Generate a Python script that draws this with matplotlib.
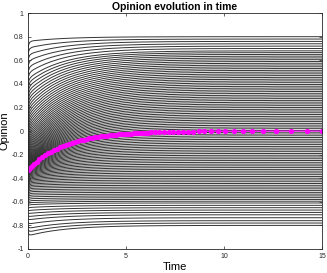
import matplotlib
matplotlib.use("Agg")
import matplotlib.pyplot as plt
import numpy as np

plt.rcParams['font.family'] = ['Liberation Sans', 'DejaVu Sans']

# solver time steps
time = [0, 0.02, 0.05, 0.1, 0.2, 0.3, 0.45, 0.6, 0.75, 0.9, 1.05, 1.2, 1.35, 1.5,
        1.65, 1.8, 1.95, 2.1, 2.25, 2.4, 2.55, 2.7, 2.85, 3.0, 3.15, 3.3, 3.45,
        3.6, 3.75, 3.9, 4.05, 4.2, 4.35, 4.5, 4.65, 4.8, 4.95, 5.1, 5.25, 5.4,
        5.55, 5.7, 5.85, 6.0, 6.15, 6.3, 6.5, 6.7, 6.95, 7.2, 7.42, 7.66, 7.9,
        8.15, 8.4, 8.71, 9.0, 9.34, 9.71, 10.05, 10.51, 10.95, 11.44, 12.0,
        12.65, 13.4, 14.24, 15.0]

# mean opinion (magenta)
mean_opinion = [-0.330, -0.327, -0.321, -0.313, -0.297, -0.282, -0.260, -0.241,
                -0.222, -0.205, -0.190, -0.175, -0.162, -0.150, -0.138, -0.128,
                -0.118, -0.109, -0.101, -0.093, -0.086, -0.080, -0.074, -0.068,
                -0.063, -0.058, -0.054, -0.050, -0.046, -0.042, -0.039, -0.036,
                -0.033, -0.031, -0.029, -0.026, -0.024, -0.023, -0.021, -0.019,
                -0.018, -0.016, -0.015, -0.014, -0.013, -0.012, -0.011, -0.010,
                -0.009, -0.007, -0.007, -0.006, -0.005, -0.005, -0.004, -0.003,
                -0.003, -0.002, -0.002, -0.002, -0.001, -0.001, -0.001, -0.001,
                0.0, 0.0, 0.0, 0.0]

# fast initial spread-out of the opinions
fast = [1, 0.6, 0.3, 0.1, 0.02] + [0] * (len(time) - 5)

# opinions at t = 15
final_opinion = [0.80, 0.78, 0.76, 0.74, 0.72, 0.70, 0.68, 0.665, 0.65, 0.635,
                 0.62, 0.605, 0.59, 0.575, 0.56, 0.545, 0.53, 0.515, 0.50, 0.485,
                 0.47, 0.455, 0.44, 0.425, 0.41, 0.395, 0.38, 0.365, 0.35, 0.335,
                 0.32, 0.305, 0.29, 0.275, 0.26, 0.245, 0.23, 0.215, 0.20, 0.185,
                 0.17, 0.155, 0.14, 0.125, 0.11, 0.095, 0.08, 0.065, 0.05, 0.035,
                 0.02, 0.005, -0.01, -0.025, -0.04, -0.055, -0.07, -0.085, -0.10,
                 -0.115, -0.13, -0.145, -0.16, -0.175, -0.19, -0.205, -0.22,
                 -0.235, -0.25, -0.265, -0.28, -0.295, -0.31, -0.325, -0.34,
                 -0.355, -0.37, -0.385, -0.40, -0.415, -0.43, -0.445, -0.46,
                 -0.475, -0.49, -0.505, -0.52, -0.535, -0.55, -0.565, -0.58,
                 -0.595, -0.61, -0.63, -0.65, -0.67, -0.69, -0.71, -0.735, -0.76,
                 -0.78, -0.80]

start_center, start_top, start_bottom = -0.40, 0.66, -0.84
early_center, early_top, early_bottom = -0.30, 0.76, -0.89
squeeze = 2.2   # middle opinions start bunched together

t = np.array(time)
m = np.array(mean_opinion)
slow = m / m[0]
fa = np.array(fast)

fig = plt.figure(figsize=(3.27, 2.73), dpi=100)
ax = fig.add_axes([0.0847, 0.088, 0.9, 0.864])

f_top, f_bot = final_opinion[0], final_opinion[-1]
for f in final_opinion:
    if f >= 0:
        r = (f / f_top) ** squeeze
        s = start_center + (start_top - start_center) * r
        p = early_center + (early_top - early_center) * r
    else:
        r = (f / f_bot) ** squeeze
        s = start_center + (start_bottom - start_center) * r
        p = early_center + (early_bottom - early_center) * r
    x = f + (p - f) * slow + (s - p) * fa
    ax.plot(t, x, color='#333333', lw=0.7)

ax.plot(t, m, color='#ff00ff', lw=0.8, marker='o', ms=2.8,
        mfc='#ff00ff', mec='#ff00ff')

ax.set_xlim(0, 15)
ax.set_ylim(-1, 1)
ax.set_xticks([0, 5, 10, 15])
ax.set_yticks([-1, -0.8, -0.6, -0.4, -0.2, 0, 0.2, 0.4, 0.6, 0.8, 1])
ax.set_yticklabels(['-1', '-0.8', '-0.6', '-0.4', '-0.2', '0', '0.2', '0.4',
                    '0.6', '0.8', '1'])
ax.tick_params(direction='in', length=2.5, width=0.5, labelsize=5,
               colors='#262626', top=True, right=True, pad=3)
for sp in ax.spines.values():
    sp.set_linewidth(0.6)
    sp.set_color('#262626')

ax.set_title('Opinion evolution in time', fontsize=7.5, fontweight='bold', pad=2)
ax.set_xlabel('Time', fontsize=8, labelpad=1)
ax.set_ylabel('Opinion', fontsize=8, labelpad=1)

fig.savefig('out.png', dpi=100)
